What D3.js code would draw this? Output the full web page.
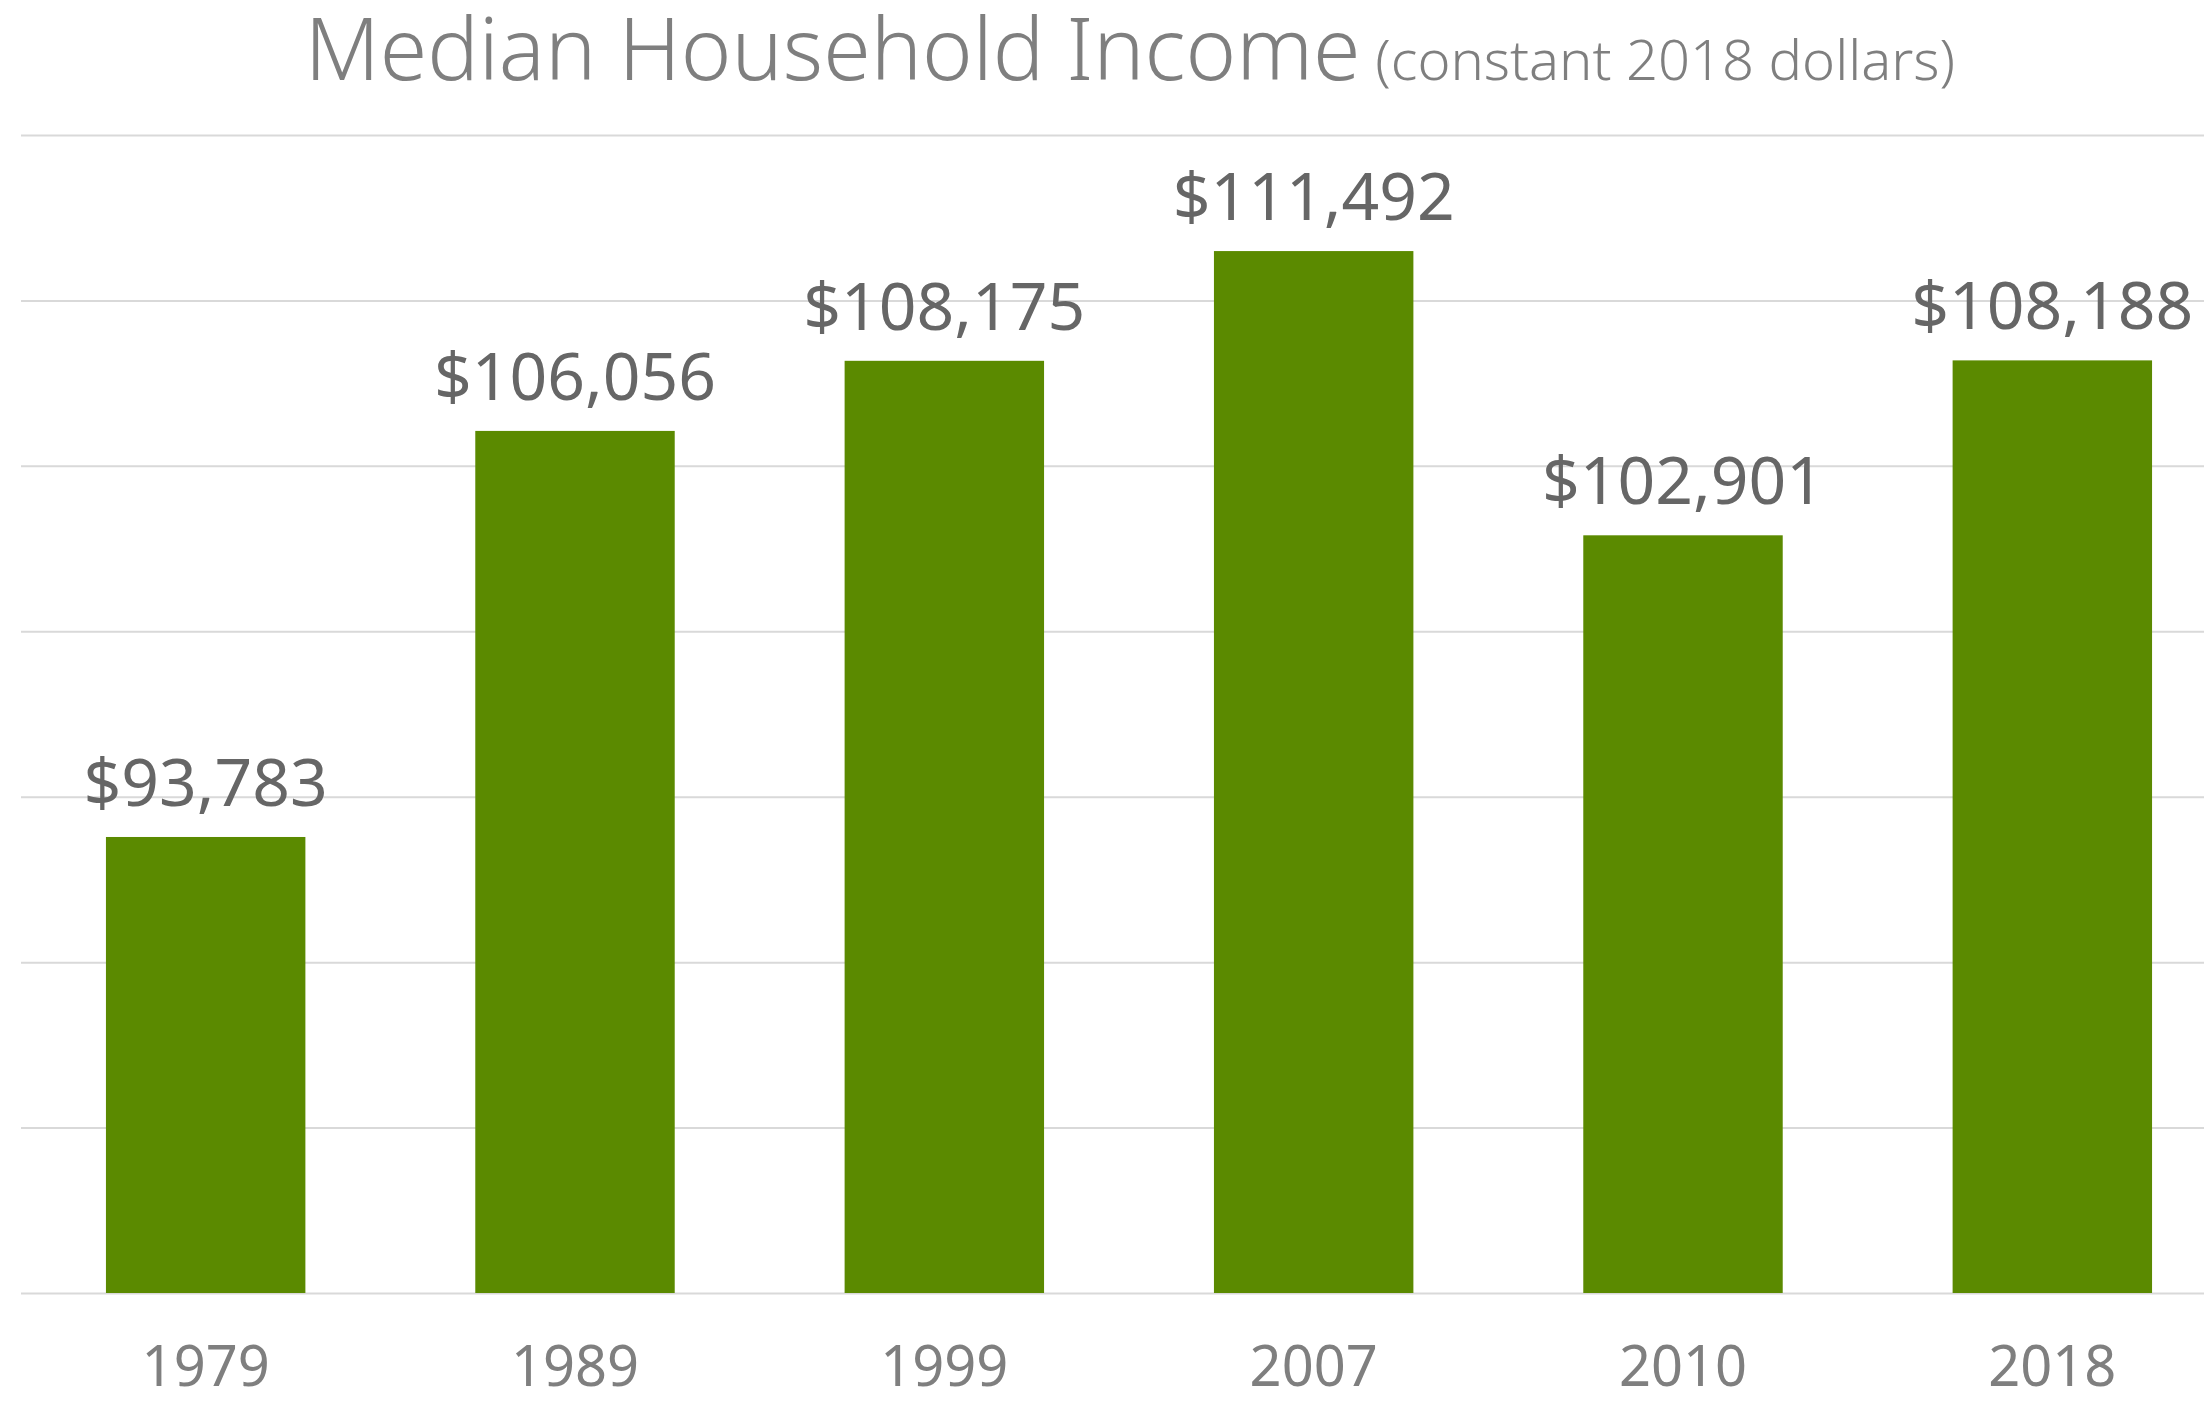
<!DOCTYPE html>
<html>
<head>
<meta charset="utf-8">
<script src="https://cdn.jsdelivr.net/npm/d3@7"></script>
<style>
  html, body { margin: 0; padding: 0; background: #fff; }
  svg { display: block; font-family: "Noto Sans", "Open Sans", sans-serif; }
</style>
</head>
<body>
<svg id="chart" width="2204" height="1402"></svg>
<script>
"use strict";

var years = ["1979", "1989", "1999", "2007", "2010", "2018"];
var incomes = [93783, 106056, 108175, 111492, 102901, 108188];
var yTicks = [80000, 85000, 90000, 95000, 100000, 105000, 110000, 115000];

(function draw() {
    var svg = d3.select("#chart");

    // plot area is a bit wider than the page, the right edge gets cut like the original
    var left = 21, right = 2237, top = 135, bottom = 1293;

    var x = d3.scaleBand()
        .domain(years)
        .range([left, right])
        .paddingInner(0.46)
        .paddingOuter(0.23);

    var y = d3.scaleLinear()
        .domain([80000, 115000])
        .range([bottom, top]);

    // gridlines
    svg.append("g").attr("class", "grid")
        .attr("transform", "translate(" + left + ",0)")
        .call(d3.axisLeft(y).tickValues(yTicks).tickSize(-(right - left)).tickFormat(""))
        .call(function(g) {
            g.select(".domain").remove();
            g.selectAll(".tick line").attr("stroke", "#d9d9d9").attr("stroke-width", 2);
        });

    var data = years.map(function(d, i) { return { year: d, value: incomes[i] }; });

    svg.append("g").selectAll("rect")
        .data(data)
        .enter().append("rect")
        .attr("x", function(d) { return x(d.year); })
        .attr("y", function(d) { return y(d.value); })
        .attr("width", x.bandwidth())
        .attr("height", function(d) { return y(80000) - y(d.value); })
        .attr("fill", "#5b8a00");

    var fmt = d3.format("$,");

    svg.append("g").selectAll("text")
        .data(data)
        .enter().append("text")
        .attr("x", function(d) { return x(d.year) + x.bandwidth() / 2; })
        .attr("y", function(d) { return y(d.value) - 31; })
        .attr("text-anchor", "middle")
        .attr("font-size", 66)
        .attr("fill", "#666666")
        .text(function(d) { return fmt(d.value); });

    // x axis labels
    svg.append("g")
        .attr("transform", "translate(0," + bottom + ")")
        .call(d3.axisBottom(x).tickSize(0).tickPadding(0))
        .call(function(g) {
            g.select(".domain").remove();
            g.selectAll(".tick text")
                .attr("dy", null)
                .attr("y", 93)
                .attr("font-family", "Noto Sans, sans-serif")
                .attr("font-size", 56)
                .attr("fill", "#7f7f7f");
        });

    // title
    var title = svg.append("text")
        .attr("x", 1130)
        .attr("y", 80)
        .attr("text-anchor", "middle")
        .attr("fill", "#7f7f7f");
    title.append("tspan").attr("font-size", 86).attr("font-weight", 300).text("Median Household Income");
    title.append("tspan").attr("font-size", 56).attr("font-weight", 300).text(" (constant 2018 dollars)");
})();
</script>
</body>
</html>
